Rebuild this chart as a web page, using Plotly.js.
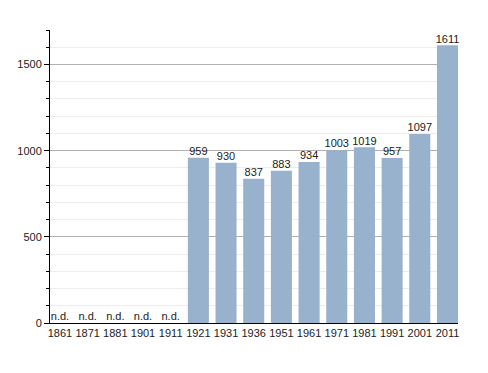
<!DOCTYPE html>
<html><head><meta charset="utf-8">
<script src="https://cdn.plot.ly/plotly-3.0.1.min.js"></script>
<style>html,body{margin:0;padding:0;background:#fff}</style>
</head><body>
<div id="chart" style="width:488px;height:373px"></div>
<script>
const years = ["1861","1871","1881","1901","1911","1921","1931","1936","1951","1961","1971","1981","1991","2001","2011"];
const population = [null,null,null,null,null,959,930,837,883,934,1003,1019,957,1097,1611];
const ndYears = ["1861","1871","1881","1901","1911"];
const ndValues = [0,0,0,0,0];
const ndLabel = "n.d.";

const font = {family:"Liberation Sans, Arial, sans-serif", size:11, color:"#222"};
const valYears = years.filter((y,i)=>population[i]!=null);
const valPop = population.filter(v=>v!=null);
const traces = [
  {type:"bar", x:years, y:population, marker:{color:"#98b1cd"}, hoverinfo:"x+y"},
  {type:"scatter", mode:"text", x:valYears, y:valPop, text:valPop.map(String),
   textposition:"top center", textfont:font, cliponaxis:false},
  {type:"scatter", mode:"text", x:ndYears, y:ndValues, text:ndYears.map(()=>ndLabel),
   textposition:"top center", textfont:font, cliponaxis:false}
];
const layout = {
  width:488, height:373,
  margin:{l:50, r:30, t:30, b:50},
  showlegend:false,
  bargap:0.24,
  paper_bgcolor:"#fff", plot_bgcolor:"#fff",
  font:font,
  xaxis:{type:"category", categoryorder:"array", categoryarray:years, range:[-0.36,14.38],
    showline:true, linecolor:"#000", linewidth:1, ticks:"", tickfont:font,
    showgrid:false, zeroline:false, fixedrange:true},
  yaxis:{range:[0,1700], dtick:500, tick0:0, showline:true, linecolor:"#000", linewidth:1,
    ticks:"outside", ticklen:5, tickcolor:"#000", tickfont:font,
    gridcolor:"#b0b0b0", gridwidth:1, zeroline:false,
    minor:{dtick:100, tick0:0, showgrid:true, gridcolor:"#ececec", ticks:"outside", ticklen:3, tickcolor:"#000"}}
};
Plotly.newPlot("chart", traces, layout, {displayModeBar:false, staticPlot:true});
</script>
</body></html>
